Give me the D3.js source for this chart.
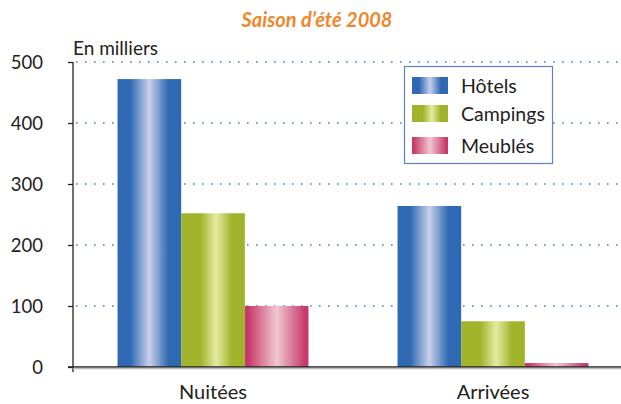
<!DOCTYPE html>
<html><head><meta charset="utf-8">
<script src="https://cdn.jsdelivr.net/npm/d3@7"></script>
<style>body{margin:0;background:#fff}svg{display:block}text{font-family:Lato,"Open Sans",sans-serif}</style>
</head><body><svg id="c" width="621" height="404"></svg>
<script>
const categories = ["Nuitées", "Arrivées"];
const seriesNames = ["Hôtels", "Campings", "Meublés"];
const hotels = [472, 264];
const campings = [252, 75];
const meubles = [100, 6.5];
const yTicks = [0, 100, 200, 300, 400, 500];
const title = "Saison d’été 2008";
const unitLabel = "En milliers";

const series = [hotels, campings, meubles];
const grads = [
  {edge:"#2f69b3", mid:"#c9d0ea", stops:[0,0.2,0.5,0.8,1]},
  {edge:"#a0b32a", mid:"#e5eba2", stops:[0,0.3,0.55,0.8,1]},
  {edge:"#c8396b", mid:"#efc7d0", stops:[0,0.05,0.5,0.95,1]}
];

const svg = d3.select("#c");
const defs = svg.append("defs");
grads.forEach((g,i)=>{
  const lg = defs.append("linearGradient").attr("id","g"+i).attr("x1","0").attr("x2","1").attr("y1","0").attr("y2","0");
  const cols=[g.edge,g.edge,g.mid,g.edge,g.edge];
  g.stops.forEach((s,k)=>lg.append("stop").attr("offset",s).attr("stop-color",cols[k]));
});

const y = d3.scaleLinear().domain([0,500]).range([367,62]);
const x0 = d3.scaleBand().domain(categories).range([73,633]).paddingInner(0.318).paddingOuter(0.159);
const x1 = d3.scaleBand().domain(seriesNames).range([0,x0.bandwidth()]);

// gridlines
svg.append("g").selectAll("line").data(yTicks.filter(t=>t>0)).join("line")
  .attr("x1",76).attr("x2",621).attr("y1",d=>y(d)).attr("y2",d=>y(d))
  .attr("stroke","#4a7cc4").attr("stroke-width",1.6).attr("stroke-dasharray","1.6 7.4");

// bars
const grp = svg.append("g").selectAll("g").data(categories).join("g")
  .attr("transform",d=>`translate(${x0(d)},0)`);
grp.selectAll("rect").data((d,ci)=>seriesNames.map((s,si)=>({s,si,v:series[si][ci]}))).join("rect")
  .attr("x",d=>x1(d.s)).attr("width",x1.bandwidth())
  .attr("y",d=>y(d.v)).attr("height",d=>y(0)-y(d.v))
  .attr("fill",d=>`url(#g${d.si})`);

// y axis
const ya = svg.append("g").attr("transform","translate(73,0)")
  .call(d3.axisLeft(y).tickValues(yTicks).tickSize(5).tickPadding(25));
ya.select(".domain").attr("d","M0,62V372").attr("stroke","#222").attr("stroke-width",1.3);
ya.selectAll(".tick line").attr("stroke","#222").attr("stroke-width",1.3);
ya.selectAll(".tick text").attr("font-size",18.5).attr("fill","#222").attr("dy","0.36em");

// baseline
svg.append("line").attr("x1",68).attr("x2",621).attr("y1",y(0)).attr("y2",y(0))
  .attr("stroke","#222").attr("stroke-width",1.3);
svg.append("line").attr("x1",73).attr("x2",621).attr("y1",y(0)+1.5).attr("y2",y(0)+1.5)
  .attr("stroke","#bbb").attr("stroke-width",1.5);

// category labels
svg.append("g").selectAll("text").data(categories).join("text")
  .attr("x",d=>x0(d)+x0.bandwidth()/2).attr("y",399).attr("text-anchor","middle")
  .attr("font-size",20).attr("fill","#222").text(d=>d);

// title & unit
svg.append("text").attr("x",317).attr("y",27).attr("text-anchor","middle")
  .attr("font-size",20).attr("font-weight","bold").attr("font-style","italic")
  .attr("fill","#f0862a").text(title);
svg.append("text").attr("x",73).attr("y",55).attr("font-size",19).attr("fill","#222").text(unitLabel);

// legend
const lg = svg.append("g");
lg.append("rect").attr("x",404.5).attr("y",66.5).attr("width",148).attr("height",97)
  .attr("fill","#fff").attr("stroke","#5f82c6").attr("stroke-width",1.2);
const ly = [77,105,137];
seriesNames.forEach((s,i)=>{
  lg.append("rect").attr("x",412).attr("y",ly[i]).attr("width",36).attr("height",17).attr("fill",`url(#g${i})`);
  lg.append("text").attr("x",461).attr("y",ly[i]+16).attr("font-size",19.5).attr("fill","#222").text(s);
});
</script></body></html>
